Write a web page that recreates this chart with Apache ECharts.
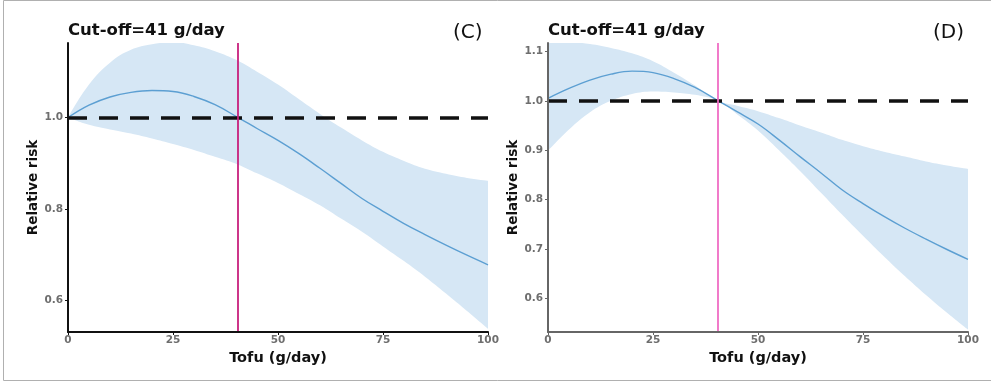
<!DOCTYPE html>
<html>
<head>
<meta charset="utf-8">
<script src="https://cdn.jsdelivr.net/npm/echarts@6/dist/echarts.min.js"></script>
<style>
html,body{margin:0;padding:0;background:#fff;}
#chart{width:991px;height:382px;}
</style>
</head>
<body>
<div id="chart"></div>
<script>
// ---- data ----
const tofuX = [0,5,10,15,20,25,30,35,40.5,45,50,55,60,65,70,75,80,85,90,95,100];
const cutoff = 40.5;
const refRR = 1.0;

// Panel C
const rrC    = [1.000,1.027,1.045,1.055,1.059,1.057,1.046,1.028,1.000,0.976,0.950,0.921,0.889,0.856,0.823,0.795,0.768,0.744,0.721,0.699,0.678];
const upperC = [1.000,1.072,1.120,1.148,1.160,1.165,1.158,1.145,1.124,1.100,1.072,1.040,1.008,0.978,0.950,0.925,0.905,0.888,0.877,0.868,0.862];
const lowerC = [1.000,0.984,0.974,0.965,0.954,0.942,0.929,0.914,0.897,0.878,0.857,0.833,0.808,0.779,0.750,0.718,0.686,0.652,0.615,0.577,0.538];

// Panel D
const rrD    = [1.005,1.025,1.042,1.054,1.060,1.057,1.045,1.027,1.000,0.978,0.953,0.921,0.887,0.854,0.820,0.792,0.766,0.742,0.720,0.699,0.679];
const upperD = [1.120,1.119,1.115,1.107,1.096,1.080,1.057,1.031,1.000,0.990,0.979,0.965,0.950,0.936,0.921,0.908,0.897,0.887,0.877,0.869,0.862];
const lowerD = [0.899,0.942,0.977,1.000,1.014,1.019,1.017,1.012,1.000,0.973,0.940,0.900,0.858,0.814,0.770,0.727,0.685,0.645,0.607,0.571,0.537];

const xTicks = [0,25,50,75,100];
const yTicksC = [0.6,0.8,1.0];
const yTicksD = [0.6,0.7,0.8,0.9,1.0,1.1];
const titleText = 'Cut-off=41 g/day';
const xName = 'Tofu (g/day)';
const yName = 'Relative risk';
// ---------------------------------------

const FONT = 'DejaVu Sans';
const pair = (xs, ys) => xs.map((x,i)=>[x, ys[i]]);

const chart = echarts.init(document.getElementById('chart'), null, {renderer:'canvas'});

function xAxisCfg(grid, axisColor){
  return {
    type:'value', gridIndex:grid, min:0, max:100, interval:25, z:10,
    name:xName, nameLocation:'middle', nameGap:18,
    nameTextStyle:{fontFamily:FONT, fontWeight:'bold', fontSize:14.5, color:'#111'},
    axisLine:{show:true, onZero:false, lineStyle:{color:axisColor, width:2}},
    axisTick:{show:true, length:3, customValues:xTicks, lineStyle:{color:axisColor, width:1}},
    axisLabel:{margin:3, customValues:xTicks, fontFamily:FONT, fontWeight:'bold', fontSize:10.5, color:'#6e6e6e'},
    splitLine:{show:false}
  };
}
function yAxisCfg(grid, min, max, ticks, axisColor, gap){
  return {
    type:'value', gridIndex:grid, min:min, max:max, z:10,
    name:yName, nameLocation:'middle', nameGap:gap, nameRotate:90,
    nameTextStyle:{fontFamily:FONT, fontWeight:'bold', fontSize:13.5, color:'#111'},
    axisLine:{show:true, onZero:false, lineStyle:{color:axisColor, width:2}},
    axisTick:{show:true, length:3, customValues:ticks, lineStyle:{color:axisColor, width:1}},
    axisLabel:{margin:5, customValues:ticks, formatter:v=>v.toFixed(1),
      fontFamily:FONT, fontWeight:'bold', fontSize:10.5, color:'#6e6e6e'},
    splitLine:{show:false}
  };
}
// ribbon: upper edge filled down to the axis, lower edge masks it with white
function bandSeries(idx, lower, upper){
  return [
    {type:'line', xAxisIndex:idx, yAxisIndex:idx, data:pair(tofuX, upper),
      symbol:'none', smooth:0.4, lineStyle:{width:0, opacity:0},
      areaStyle:{color:'#d6e7f5', opacity:1, origin:'start'}, silent:true, z:1},
    {type:'line', xAxisIndex:idx, yAxisIndex:idx, data:pair(tofuX, lower),
      symbol:'none', smooth:0.4, lineStyle:{width:0, opacity:0},
      areaStyle:{color:'#ffffff', opacity:1, origin:'start'}, silent:true, z:2}
  ];
}
function mainSeries(idx, rr, vColor){
  return {
    type:'line', xAxisIndex:idx, yAxisIndex:idx, data:pair(tofuX, rr),
    symbol:'none', smooth:0.4, lineStyle:{color:'#5c9fd2', width:1.4}, z:3,
    markLine:{
      silent:true, symbol:['none','none'], label:{show:false}, animation:false,
      data:[
        {yAxis:refRR, lineStyle:{color:'#111', width:3.5, type:[19,12]}},
        {xAxis:cutoff, lineStyle:{color:vColor, width:1.8, type:'solid'}}
      ]
    }
  };
}

const option = {
  animation:false,
  backgroundColor:'#fff',
  grid:[
    {left:68, right:503, top:43, bottom:50},
    {left:548, right:23, top:43, bottom:50}
  ],
  xAxis:[xAxisCfg(0,'#111'), xAxisCfg(1,'#666')],
  yAxis:[
    yAxisCfg(0, 0.531, 1.163, yTicksC, '#111', 27),
    yAxisCfg(1, 0.532, 1.117, yTicksD, '#666', 27)
  ],
  title:[
    {text:titleText, left:68, top:22, padding:0, textStyle:{fontFamily:FONT, fontWeight:'bold', fontSize:16.5, color:'#111'}},
    {text:'(C)', left:453, top:23, padding:0, textStyle:{fontFamily:FONT, fontWeight:'normal', fontSize:20, color:'#111'}},
    {text:titleText, left:548, top:22, padding:0, textStyle:{fontFamily:FONT, fontWeight:'bold', fontSize:16.5, color:'#111'}},
    {text:'(D)', left:933, top:23, padding:0, textStyle:{fontFamily:FONT, fontWeight:'normal', fontSize:20, color:'#111'}}
  ],
  graphic:[
    {type:'rect', shape:{x:3.5, y:0.5, width:1000, height:380}, style:{fill:'none', stroke:'#b0b0b0', lineWidth:1}, silent:true, z:100}
  ],
  series:[
    ...bandSeries(0, lowerC, upperC),
    mainSeries(0, rrC, '#c8207d'),
    ...bandSeries(1, lowerD, upperD),
    mainSeries(1, rrD, '#f06cc4')
  ]
};
chart.setOption(option);
</script>
</body>
</html>
